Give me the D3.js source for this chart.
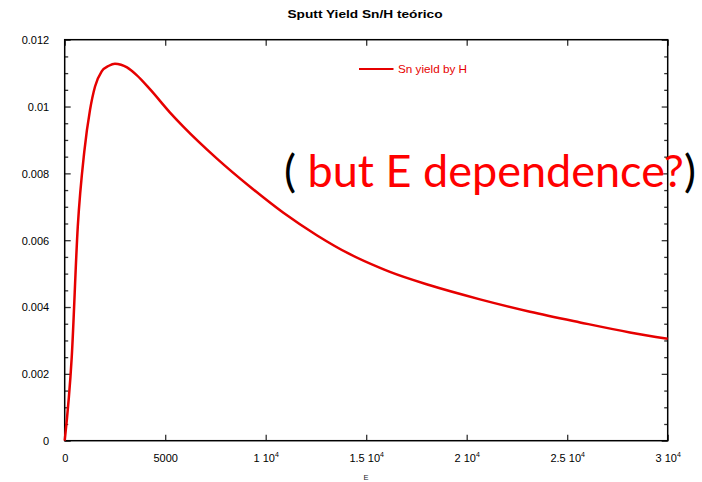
<!DOCTYPE html>
<html>
<head>
<meta charset="utf-8">
<script src="https://cdn.jsdelivr.net/npm/d3@7"></script>
<style>
  html, body { margin: 0; padding: 0; background: #fff; }
  svg { display: block; }
</style>
</head>
<body>
<svg id="chart" width="702" height="482"></svg>
<script>
// ---- data ----
const energy = [0, 350, 650, 975, 1260, 1510, 1840, 2200, 2500, 2800, 3100, 3580, 4240, 5240, 5900, 7560, 9220, 10880, 12540, 14190, 15690, 16180, 18170, 20660, 23150, 25640, 28120, 30000];
const yieldSn = [0, 0.0025, 0.0064, 0.00865, 0.0099, 0.0106, 0.01105, 0.01122, 0.01128, 0.01125, 0.01117, 0.01094, 0.01052, 0.00982, 0.0094, 0.00845, 0.0076, 0.00682, 0.00615, 0.00558, 0.00517, 0.00505, 0.00465, 0.00423, 0.00386, 0.00354, 0.00324, 0.00305];

const xTickValues = [0, 5000, 10000, 15000, 20000, 25000, 30000];
const xTickMantissa = ["0", "5000", "1 10", "1.5 10", "2 10", "2.5 10", "3 10"];
const xTickExponent = ["", "", "4", "4", "4", "4", "4"];

const yTickValues = [0, 0.002, 0.004, 0.006, 0.008, 0.01, 0.012];
const yTickLabels = ["0", "0.002", "0.004", "0.006", "0.008", "0.01", "0.012"];
const yMinorTicks = [0.0005, 0.001, 0.0015, 0.0025, 0.003, 0.0035, 0.0045, 0.005, 0.0055, 0.0065, 0.007, 0.0075, 0.0085, 0.009, 0.0095, 0.0105, 0.011, 0.0115];

const titleText = "Sputt Yield Sn/H teórico";
const legendText = "Sn yield by H";
const xLabelText = "E";
const noteParts = ["(", " but E dependence?", ")"];

// ---- layout ----
const svg = d3.select("#chart");
const L = 64.7, R = 667.7, T = 39.7, B = 440.7;

const x = d3.scaleLinear().domain([0, 30000]).range([L, R]);
const y = d3.scaleLinear().domain([0, 0.012]).range([B, T]);

const font = "'Liberation Sans', Arial, Helvetica, sans-serif";
const tickColor = "#333";

// bottom axis
const gB = svg.append("g").attr("transform", `translate(0,${B})`)
  .call(d3.axisBottom(x).tickValues(xTickValues).tickSizeInner(-6).tickSizeOuter(0).tickPadding(14)
    .tickFormat((d, i) => xTickMantissa[i]));
// top axis
const gT = svg.append("g").attr("transform", `translate(0,${T})`)
  .call(d3.axisTop(x).tickValues(xTickValues).tickSizeInner(-6).tickSizeOuter(0).tickFormat(""));
// left axis major + minor
const gL = svg.append("g").attr("transform", `translate(${L},0)`)
  .call(d3.axisLeft(y).tickValues(yTickValues).tickSizeInner(-6).tickSizeOuter(0).tickPadding(16)
    .tickFormat((d, i) => yTickLabels[i]));
const gLm = svg.append("g").attr("transform", `translate(${L},0)`)
  .call(d3.axisLeft(y).tickValues(yMinorTicks).tickSizeInner(-3.5).tickSizeOuter(0).tickFormat(""));
// right axis major + minor
const gR = svg.append("g").attr("transform", `translate(${R},0)`)
  .call(d3.axisRight(y).tickValues(yTickValues).tickSizeInner(-6).tickSizeOuter(0).tickFormat(""));
const gRm = svg.append("g").attr("transform", `translate(${R},0)`)
  .call(d3.axisRight(y).tickValues(yMinorTicks).tickSizeInner(-3.5).tickSizeOuter(0).tickFormat(""));

[gB, gT, gL, gLm, gR, gRm].forEach(g => {
  g.select(".domain").remove();
  g.selectAll(".tick line").attr("stroke", tickColor).attr("stroke-width", 1.3);
  g.selectAll("text").attr("font-family", font).attr("font-size", 11).attr("fill", "#000");
});

// superscripts on x tick labels
gB.selectAll(".tick text").each(function(d, i) {
  const t = d3.select(this);
  if (xTickExponent[i]) {
    t.text(null);
    t.append("tspan").text(xTickMantissa[i]);
    t.append("tspan").attr("font-size", 7).attr("dy", "-0.75em").text(xTickExponent[i]);
  }
  t.attr("dy", null).attr("y", 21.5);
});
gL.selectAll(".tick text").attr("dy", "0.35em").attr("x", -15.5);

// frame
svg.append("rect").attr("x", L).attr("y", T).attr("width", R - L).attr("height", B - T)
  .attr("fill", "none").attr("stroke", "#000").attr("stroke-width", 1.5);

// curve
const data = energy.map((e, i) => [e, yieldSn[i]]);
svg.append("path").datum(data)
  .attr("d", d3.line().x(d => x(d[0])).y(d => y(d[1])).curve(d3.curveMonotoneX))
  .attr("fill", "none").attr("stroke", "#e60000").attr("stroke-width", 2.5)
  .attr("stroke-linejoin", "round");

// title
svg.append("text").attr("x", 365).attr("y", 18).attr("text-anchor", "middle")
  .attr("font-family", font).attr("font-weight", "bold").attr("font-size", 11.5)
  .attr("textLength", 155).attr("lengthAdjust", "spacingAndGlyphs").text(titleText);

// legend
svg.append("line").attr("x1", 359).attr("x2", 393.5).attr("y1", 69).attr("y2", 69)
  .attr("stroke", "#e60000").attr("stroke-width", 2);
svg.append("text").attr("x", 398).attr("y", 72.5)
  .attr("font-family", font).attr("font-size", 10.5).attr("fill", "#e60000")
  .attr("textLength", 69).attr("lengthAdjust", "spacingAndGlyphs").text(legendText);

// x axis label
svg.append("text").attr("x", 366).attr("y", 480).attr("text-anchor", "middle")
  .attr("font-family", font).attr("font-size", 7.5).attr("fill", "#222").text(xLabelText);

// annotation
const note = svg.append("text").attr("x", 284).attr("y", 187)
  .attr("font-family", "Lato, 'Open Sans', sans-serif").attr("font-size", 44)
  .attr("textLength", 412).attr("lengthAdjust", "spacingAndGlyphs");
note.append("tspan").attr("fill", "#000").text(noteParts[0]);
note.append("tspan").attr("fill", "#ff0000").text(noteParts[1]);
note.append("tspan").attr("fill", "#000").text(noteParts[2]);
</script>
</body>
</html>
